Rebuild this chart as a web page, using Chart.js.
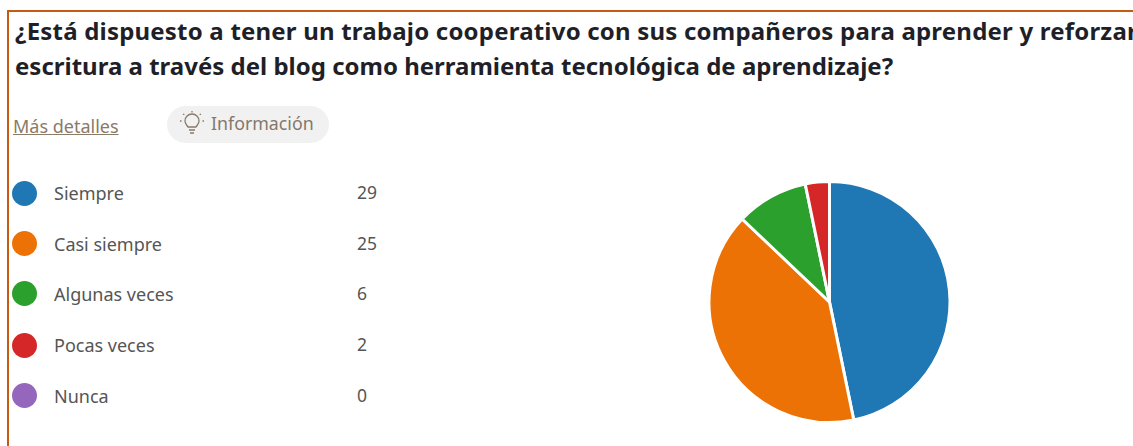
<!DOCTYPE html>
<html lang="es"><head><meta charset="utf-8">
<style>
html,body{margin:0;padding:0;background:#fff;width:1133px;height:446px;overflow:hidden}
body{position:relative;font-family:"Noto Sans","Open Sans",sans-serif}
.frame{position:absolute;left:7px;top:10px;width:1126px;height:436px;border-top:2px solid #c55a11;border-left:2px solid #c55a11;box-sizing:border-box}
.title{position:absolute;white-space:nowrap;font-weight:700;font-size:24px;color:#1f1f28;left:15px}
.more{position:absolute;left:13px;top:114px;font-size:18px;color:#8a7a68;text-decoration:underline;white-space:nowrap}
.pill{position:absolute;left:167px;top:106px;width:162px;height:37px;border-radius:19px;background:#f1f1f1}
.pill span{position:absolute;left:44px;top:5px;font-size:17.8px;color:#84786a;white-space:nowrap}
.pill svg{position:absolute;left:13px;top:5px}
.dot{position:absolute;left:12px;width:25px;height:25px;border-radius:50%}
.lab{position:absolute;left:54px;font-size:18px;color:#555;white-space:nowrap;transform:translateY(-50%)}
.cnt{position:absolute;left:357px;font-size:17.5px;color:#555;transform:translateY(-50%)}
#wrap{position:absolute;left:705px;top:178px;width:249px;height:248px}
</style></head><body>
<div class="frame"></div>
<div class="title" id="t1" style="top:14px;letter-spacing:.2px"></div>
<div class="title" id="t2" style="top:49px"></div>
<div class="more" id="more"></div>
<div class="pill"><svg width="24" height="26" viewBox="0 0 24 26" fill="none" stroke="#8a7a68" stroke-width="1.3"><path d="M8 16c-1-2-3-3-3-6a7 7 0 0 1 14 0c0 3-2 4-3 6zM9 19h6M10 22h4"/><path d="M12 0v2M3 3l2 1M21 3l-2 1M0 10h2M24 10h-2" stroke-dasharray="1.5 1"/></svg><span id="info"></span></div>
<div id="legend"></div>
<div id="wrap"><canvas id="c"></canvas></div>
<script src="https://cdn.jsdelivr.net/npm/chart.js@4"></script>
<script>
const titleLines = ["¿Está dispuesto a tener un trabajo cooperativo con sus compañeros para aprender y reforzar","escritura a través del blog como herramienta tecnológica de aprendizaje?"];
const moreText = "Más detalles";
const infoText = "Información";
const categories = ["Siempre","Casi siempre","Algunas veces","Pocas veces","Nunca"];
const values = [29,25,6,2,0];
const colors = ["#1f77b4","#ec7206","#2ca02c","#d62728","#9467bd"];
const rowY = [193,243.5,293.5,345,395.5];

t1.textContent = titleLines[0];
t2.textContent = titleLines[1];
more.textContent = moreText;
info.textContent = infoText;
const lg = document.getElementById('legend');
categories.forEach((c,i)=>{
  lg.insertAdjacentHTML('beforeend',
    `<div class="dot" style="top:${rowY[i]-12.5}px;background:${colors[i]}"></div>`+
    `<div class="lab" style="top:${rowY[i]}px">${c}</div>`+
    `<div class="cnt" style="top:${rowY[i]-1}px">${values[i]}</div>`);
});
new Chart(document.getElementById('c'),{
  type:'pie',
  data:{labels:categories,datasets:[{data:values,backgroundColor:colors,borderColor:'#fff',borderWidth:3}]},
  options:{responsive:true,maintainAspectRatio:false,animation:false,
    layout:{padding:2},
    plugins:{legend:{display:false},tooltip:{enabled:false},title:{display:false}}}
});
</script>
</body></html>
